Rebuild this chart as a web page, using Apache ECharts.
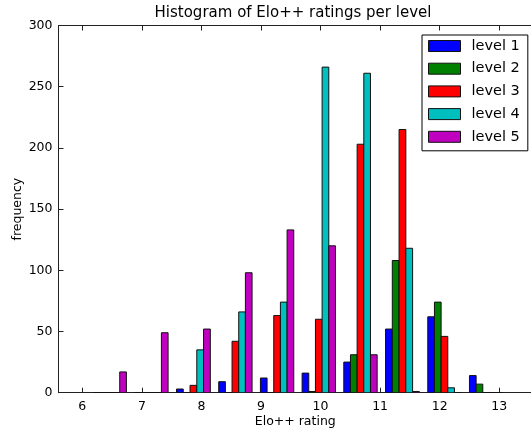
<!DOCTYPE html>
<html>
<head>
<meta charset="utf-8">
<script src="https://cdn.jsdelivr.net/npm/echarts@6/dist/echarts.min.js"></script>
<style>
  html, body { margin: 0; padding: 0; background: #fff; }
  #chart { width: 531px; height: 433px; }
</style>
</head>
<body>
<div id="chart"></div>
<script>
// Histogram bin edges (Elo++ rating)
const binEdges = [6.11, 6.81, 7.51, 8.22, 8.92, 9.62, 10.32, 11.02, 11.73, 12.43, 13.13];

// Counts per bin for each level
const level1 = [0, 0, 3, 9, 12, 16, 25, 52, 62, 14];
const level2 = [0, 0, 0, 0, 0, 1, 31, 108, 74, 7];
const level3 = [0, 0, 6, 42, 63, 60, 203, 215, 46, 0];
const level4 = [0, 0, 35, 66, 74, 266, 261, 118, 4, 0];
const level5 = [17, 49, 52, 98, 133, 120, 31, 1, 0, 0];

const seriesNames = ['level 1', 'level 2', 'level 3', 'level 4', 'level 5'];
const seriesColors = ['#0000ff', '#008000', '#ff0000', '#00bfbf', '#bf00bf'];
const seriesValues = [level1, level2, level3, level4, level5];

const xTickValues = [6, 7, 8, 9, 10, 11, 12, 13];
const yTickValues = [0, 50, 100, 150, 200, 250, 300];

const FONT = 'DejaVu Sans';

// Bars fill 80% of each bin, split evenly between the levels
function barData(values, idx) {
  const n = seriesValues.length;
  return values.map((v, k) => {
    const lo = binEdges[k], hi = binEdges[k + 1];
    const w = hi - lo;
    const bw = 0.8 * w / n;
    const x0 = lo + 0.1 * w + idx * bw;
    return [x0, x0 + bw, v];
  });
}

function renderBar(params, api) {
  const p0 = api.coord([api.value(0), api.value(2)]);
  const p1 = api.coord([api.value(1), 0]);
  return {
    type: 'rect',
    shape: { x: p0[0], y: p0[1], width: p1[0] - p0[0], height: p1[1] - p0[1] },
    style: { fill: api.visual('color'), stroke: '#111', lineWidth: 1 }
  };
}

const chart = echarts.init(document.getElementById('chart'), null, { renderer: 'canvas' });

const axisLineStyle = { color: '#222', width: 1 };

chart.setOption({
  animation: false,
  backgroundColor: '#fff',
  title: {
    text: 'Histogram of Elo++ ratings per level',
    left: 293,
    top: 6,
    padding: 0,
    textAlign: 'center',
    textStyle: { fontFamily: FONT, fontSize: 15, fontWeight: 'normal', color: '#000' }
  },
  legend: {
    orient: 'vertical',
    left: 422,
    top: 35,
    padding: [3, 8, 6, 6],
    itemWidth: 32,
    itemHeight: 11,
    itemGap: 6.7,
    icon: 'rect',
    backgroundColor: '#fff',
    borderColor: '#000',
    borderWidth: 1,
    borderRadius: 0,
    itemStyle: { borderColor: '#111', borderWidth: 1 },
    textStyle: { fontFamily: FONT, fontSize: 14.5, lineHeight: 16, color: '#000', padding: [0, 0, 0, 6] },
    data: seriesNames
  },
  grid: { left: 58.5, top: 25.5, right: -1, bottom: 40.3, containLabel: false, outerBoundsMode: 'none' },
  xAxis: [{
    type: 'value',
    min: 5.6,
    max: 13.55,
    position: 'bottom',
    name: 'Elo++ rating',
    nameLocation: 'middle',
    nameGap: 23,
    nameMoveOverlap: false,
    nameTextStyle: { fontFamily: FONT, fontSize: 12.5, color: '#000' },
    axisLine: { show: true, onZero: false, lineStyle: axisLineStyle },
    axisTick: { show: true, inside: true, length: 5, customValues: xTickValues, lineStyle: axisLineStyle },
    axisLabel: { customValues: xTickValues, margin: 8, fontFamily: FONT, fontSize: 12.5, color: '#000' },
    splitLine: { show: false }
  }, {
    type: 'value',
    min: 5.6,
    max: 13.55,
    position: 'top',
    axisLine: { show: true, onZero: false, lineStyle: axisLineStyle },
    axisTick: { show: true, inside: true, length: 5, customValues: xTickValues, lineStyle: axisLineStyle },
    axisLabel: { show: false },
    splitLine: { show: false }
  }],
  yAxis: {
    type: 'value',
    min: 0,
    max: 300,
    interval: 50,
    name: 'frequency',
    nameLocation: 'middle',
    nameGap: 34,
    nameMoveOverlap: false,
    nameTextStyle: { fontFamily: FONT, fontSize: 12.5, color: '#000' },
    axisLine: { show: true, lineStyle: axisLineStyle },
    axisTick: { show: true, inside: true, length: 5, customValues: yTickValues, lineStyle: axisLineStyle },
    axisLabel: { customValues: yTickValues, margin: 6, fontFamily: FONT, fontSize: 12.5, color: '#000' },
    splitLine: { show: false }
  },
  series: seriesValues.map((vals, i) => ({
    name: seriesNames[i],
    type: 'custom',
    xAxisIndex: 0,
    color: seriesColors[i],
    itemStyle: { color: seriesColors[i], borderColor: '#111', borderWidth: 1 },
    renderItem: renderBar,
    encode: { x: [0, 1], y: 2 },
    clip: true,
    data: barData(vals, i)
  }))
});
</script>
</body>
</html>
